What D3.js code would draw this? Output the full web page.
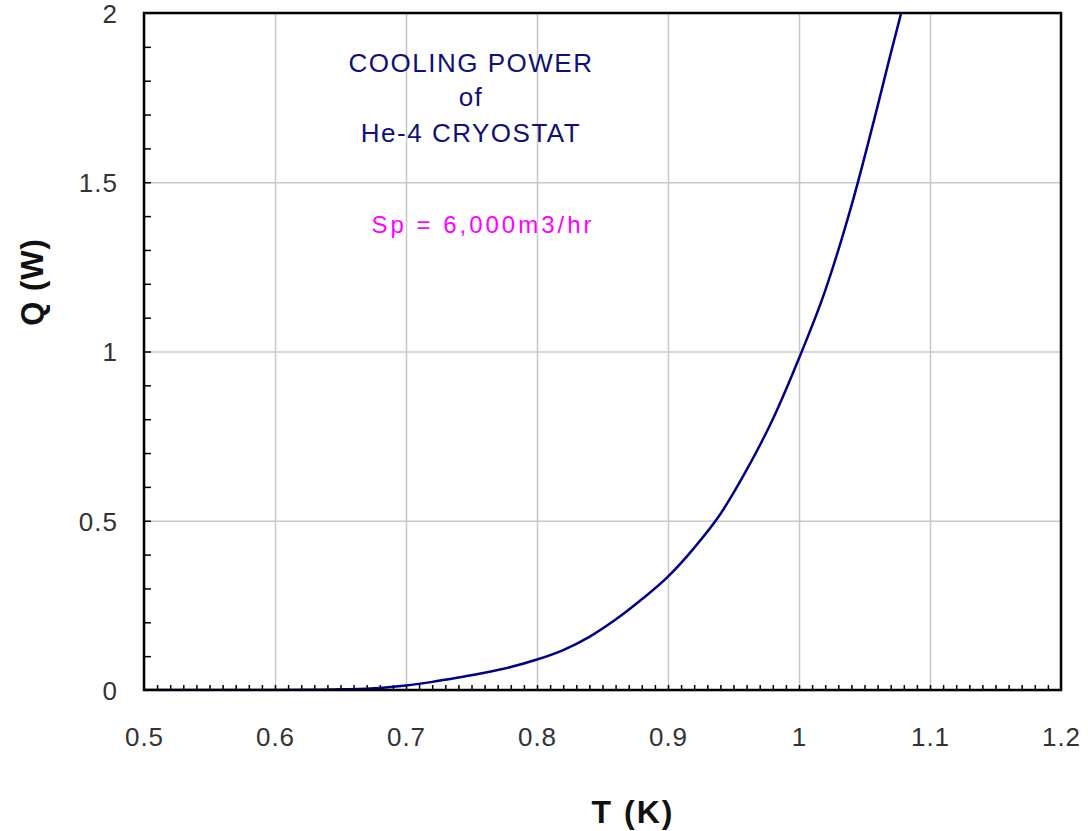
<!DOCTYPE html>
<html><head><meta charset="utf-8">
<script src="https://cdn.jsdelivr.net/npm/d3@7"></script>
<style>
html,body{margin:0;padding:0;background:#fff;}
svg{display:block;}
</style></head>
<body>
<svg id="chart" width="1088" height="831"></svg>
<script>
// Data
const temperatureK = [0.50, 0.55, 0.60, 0.63, 0.65, 0.68, 0.70, 0.72, 0.74, 0.76, 0.78, 0.80, 0.82, 0.84, 0.86, 0.88, 0.90, 0.92, 0.94, 0.96, 0.98, 1.00, 1.02, 1.04, 1.06, 1.07, 1.08];
const coolingPowerW = [0, 0, 0, 0.0005, 0.002, 0.006, 0.013, 0.024, 0.037, 0.051, 0.068, 0.090, 0.118, 0.157, 0.208, 0.268, 0.335, 0.420, 0.520, 0.650, 0.800, 0.980, 1.180, 1.430, 1.725, 1.880, 2.030];
const xTickLabels = [0.5, 0.6, 0.7, 0.8, 0.9, 1, 1.1, 1.2];
const yTickLabels = [0, 0.5, 1, 1.5, 2];
const titleLines = ["COOLING POWER", "of", "He-4 CRYOSTAT"];
const noteText = "Sp = 6,000m3/hr";
const xTitle = "T (K)";
const yTitle = "Q (W)";

const svg = d3.select("#chart");
const L = 144, R = 1061, T = 13, B = 690;
const W = R - L, H = B - T;
const x = d3.scaleLinear().domain([0.5, 1.2]).range([L, R]);
const y = d3.scaleLinear().domain([0, 2]).range([B, T]);

const font = "'Liberation Sans', Arial, sans-serif";

// gridlines
const gx = svg.append("g").attr("transform", `translate(0,${B})`)
  .call(d3.axisBottom(x).tickValues(xTickLabels).tickSize(-H).tickFormat(""));
gx.select(".domain").remove();
gx.selectAll("line").attr("stroke", "#c8c8c8").attr("stroke-width", 1.5);
const gy = svg.append("g").attr("transform", `translate(${L},0)`)
  .call(d3.axisLeft(y).tickValues(yTickLabels).tickSize(-W).tickFormat(""));
gy.select(".domain").remove();
gy.selectAll("line").attr("stroke", "#c8c8c8").attr("stroke-width", 1.5);

// minor ticks (inward)
const xMinor = d3.range(51, 120).map(d => d / 100);
const mx = svg.append("g").attr("transform", `translate(0,${B})`)
  .call(d3.axisBottom(x).tickValues(xMinor).tickSize(-5).tickFormat(""));
mx.select(".domain").remove();
mx.selectAll("line").attr("stroke", "#000").attr("stroke-width", 1.5);
const yMinor = d3.range(1, 20).map(d => d / 10);
const my = svg.append("g").attr("transform", `translate(${L},0)`)
  .call(d3.axisLeft(y).tickValues(yMinor).tickSize(-7).tickFormat(""));
my.select(".domain").remove();
my.selectAll("line").attr("stroke", "#000").attr("stroke-width", 1.5);

// curve
svg.append("clipPath").attr("id", "clip").append("rect")
  .attr("x", L).attr("y", T).attr("width", W).attr("height", H);
const pts = temperatureK.map((t, i) => [t, coolingPowerW[i]]);
svg.append("path").datum(pts)
  .attr("clip-path", "url(#clip)")
  .attr("fill", "none").attr("stroke", "#000088").attr("stroke-width", 2.5)
  .attr("d", d3.line().x(d => x(d[0])).y(d => y(d[1])).curve(d3.curveMonotoneX));

// frame
svg.append("rect").attr("x", L).attr("y", T).attr("width", W).attr("height", H)
  .attr("fill", "none").attr("stroke", "#000").attr("stroke-width", 2.5);

// tick labels
const ax = svg.append("g").attr("transform", `translate(0,${B})`)
  .call(d3.axisBottom(x).tickValues(xTickLabels).tickSize(0).tickPadding(0).tickFormat(d3.format("")));
ax.select(".domain").remove();
ax.selectAll("text").attr("y", 56).attr("dy", 0)
  .attr("font-family", font).attr("font-size", 26).attr("fill", "#333").attr("letter-spacing", "1px");
const ay = svg.append("g").attr("transform", `translate(${L},0)`)
  .call(d3.axisLeft(y).tickValues(yTickLabels).tickSize(0).tickPadding(0).tickFormat(d3.format("")));
ay.select(".domain").remove();
ay.selectAll("text").attr("x", -26).attr("dy", "0.36em")
  .attr("font-family", font).attr("font-size", 26).attr("fill", "#333").attr("letter-spacing", "1px");

// axis titles
svg.append("text").attr("x", 633).attr("y", 823).attr("text-anchor", "middle")
  .attr("font-family", font).attr("font-weight", "bold").attr("font-size", 32)
  .attr("letter-spacing", "2px").attr("fill", "#111").text(xTitle);
svg.append("text").attr("transform", "translate(43,282) rotate(-90)").attr("text-anchor", "middle")
  .attr("font-family", font).attr("font-weight", "bold").attr("font-size", 31)
  .attr("letter-spacing", "1px").attr("fill", "#111").text(yTitle);

// annotation
const baselines = [72, 106, 142];
titleLines.forEach((s, i) => {
  svg.append("text").attr("x", 471).attr("y", baselines[i]).attr("text-anchor", "middle")
    .attr("font-family", font).attr("font-size", 26).attr("fill", "#101078")
    .attr("letter-spacing", "1.5px").text(s);
});
svg.append("text").attr("x", 483).attr("y", 233).attr("text-anchor", "middle")
  .attr("font-family", font).attr("font-size", 24).attr("fill", "#ff00ff")
  .attr("letter-spacing", "3px").text(noteText);
</script>
</body></html>
